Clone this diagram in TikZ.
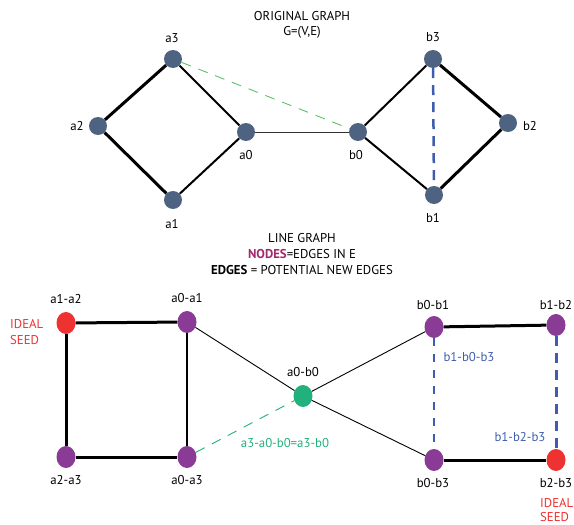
\documentclass[tikz,border=0pt]{standalone}
\usepackage{fontspec}
\setmainfont{PT Sans}
\usetikzlibrary{shapes.geometric}
\definecolor{slate}{HTML}{4E6282}
\definecolor{seedred}{HTML}{EE3131}
\definecolor{lgpurple}{HTML}{8A3B95}
\definecolor{lggreen}{HTML}{22B07C}
\definecolor{dashgreen}{HTML}{5CC06C}
\definecolor{dashblue}{HTML}{3F5DAE}
\definecolor{nodesmag}{HTML}{A3286F}
\begin{document}
\begin{tikzpicture}[x=1pt,y=-1pt,
  every node/.style={font=\fontsize{12.8}{15}\selectfont},
  gnode/.style={ellipse,fill=slate,minimum width=18pt,minimum height=18pt,inner sep=0pt},
  lnode/.style={ellipse,fill=lgpurple,minimum width=19pt,minimum height=22pt,inner sep=0pt},
  seed/.style={lnode,fill=seedred},
  mid/.style={lnode,fill=lggreen},
  thickedge/.style={line width=3pt},
  normedge/.style={line width=2pt},
  thinedge/.style={line width=0.9pt},
  greendash/.style={dashgreen,line width=0.9pt,dash pattern=on 10pt off 8pt},
  bluedash/.style={dashblue,line width=2.5pt,dash pattern=on 10pt off 7pt},
  lbl/.style={inner sep=0pt}
]
\useasboundingbox (0,0) rectangle (574,525);

% ---------- original graph ----------
\node[lbl] (t1) at (302,16) {ORIGINAL GRAPH};
\node[lbl] (t2) at (302,32) {G=(V,E)};

\node[gnode] (a3) at (173,59) {};
\node[gnode] (a2) at (98,126) {};
\node[gnode] (a0) at (246,132) {};
\node[gnode] (a1) at (173,200) {};
\node[gnode] (b0) at (358,132) {};
\node[gnode] (b3) at (433,59) {};
\node[gnode] (b2) at (508,123) {};
\node[gnode] (b1) at (434,195) {};

\node[lbl] at (172,38) {a3};
\node[lbl] at (77,126) {a2};
\node[lbl] at (246,155) {a0};
\node[lbl] at (172,224) {a1};
\node[lbl] at (356,155) {b0};
\node[lbl] at (433,37) {b3};
\node[lbl] at (530,126) {b2};
\node[lbl] at (433,218) {b1};

\draw[thickedge] (a3) -- (a2);
\draw[thickedge] (a2) -- (a1);
\draw[normedge] (a3) -- (a0);
\draw[normedge] (a1) -- (a0);
\draw[thinedge,black!80] (a0) -- (b0);
\draw[normedge] (b0) -- (b3);
\draw[normedge] (b0) -- (b1);
\draw[thickedge] (b3) -- (b2);
\draw[thickedge] (b1) -- (b2);
\draw[bluedash] (b3) -- (b1);
\draw[greendash] (a3) -- (b0);

% ---------- line graph ----------
\node[lbl] at (302,238) {LINE GRAPH};
\node[lbl] at (302,254) {\textcolor{nodesmag}{\textbf{NODES}}=EDGES IN E};
\node[lbl] at (302,270) {\textbf{EDGES} = POTENTIAL NEW EDGES};

\node[seed] (a1a2) at (66,323) {};
\node[lnode] (a0a1) at (187,322) {};
\node[lnode] (a2a3) at (66,457) {};
\node[lnode] (a0a3) at (187,457) {};
\node[mid] (a0b0) at (303,396) {};
\node[lnode] (b0b1) at (434,327) {};
\node[lnode] (b1b2) at (556,325) {};
\node[lnode] (b0b3) at (434,460) {};
\node[seed] (b2b3) at (556,460) {};

\node[lbl] at (66,299) {a1-a2};
\node[lbl] at (187,298) {a0-a1};
\node[lbl] at (66,480) {a2-a3};
\node[lbl] at (187,480) {a0-a3};
\node[lbl] at (303,372) {a0-b0};
\node[lbl] at (433,305) {b0-b1};
\node[lbl] at (556,305) {b1-b2};
\node[lbl] at (433,483) {b0-b3};
\node[lbl] at (556,483) {b2-b3};

\node[lbl,seedred,align=left,anchor=west,font=\fontsize{12.8}{16.5}\selectfont] at (10,332) {IDEAL\\SEED};
\node[lbl,seedred,align=left,anchor=west,font=\fontsize{12.8}{14.5}\selectfont] at (540,510) {IDEAL\\SEED};

\node[lbl,lggreen] at (285,443) {a3-a0-b0=a3-b0};
\node[lbl,dashblue] at (469,357) {b1-b0-b3};
\node[lbl,dashblue] at (520,437) {b1-b2-b3};

\draw[thickedge] (a1a2) -- (a0a1);
\draw[thickedge] (a1a2) -- (a2a3);
\draw[thickedge] (a2a3) -- (a0a3);
\draw[normedge] (a0a1) -- (a0a3);
\draw[thinedge] (a0a1) -- (a0b0);
\draw[thinedge] (a0b0) -- (b0b1);
\draw[thinedge] (a0b0) -- (b0b3);
\draw[greendash,lggreen] (a0a3) -- (a0b0);
\draw[thickedge] (b0b1) -- (b1b2);
\draw[thickedge] (b0b3) -- (b2b3);
\draw[dashblue,line width=2pt,dash pattern=on 8pt off 8pt] (b0b1) -- (b0b3);
\draw[bluedash,line width=3pt] (b1b2) -- (b2b3);
\end{tikzpicture}
\end{document}
